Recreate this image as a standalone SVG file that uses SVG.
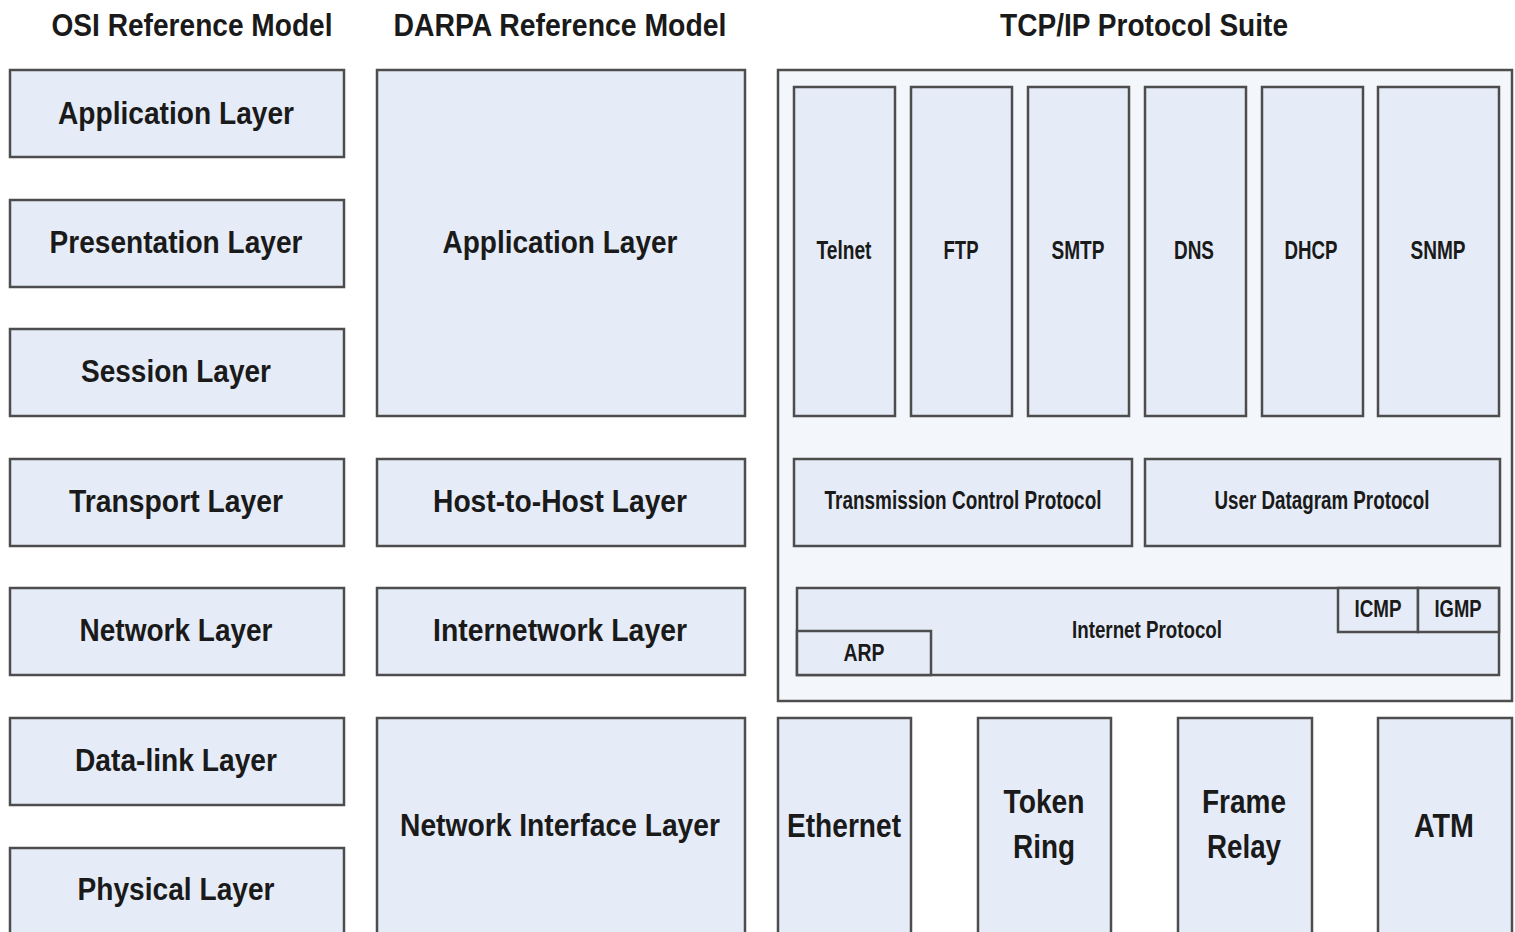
<svg xmlns="http://www.w3.org/2000/svg" width="1515" height="932" viewBox="0 0 1515 932">
<style>
.b{fill:#e6ecf7;stroke:#4d4d4d;stroke-width:2.5}
.o{fill:#f3f6fb;stroke:#4d4d4d;stroke-width:2.5}
text{font-family:"Liberation Sans",Arial,sans-serif;font-weight:bold;fill:#1a1a1a;text-anchor:middle}
.t{font-size:32px}
.l{font-size:32px}
.s{font-size:25px}
.x{font-size:23px}
.m{font-size:34px}
</style>
<rect width="1515" height="932" fill="#ffffff"/>
<g id="titles">
<text class="t" x="192" y="36" textLength="281" lengthAdjust="spacingAndGlyphs">OSI Reference Model</text>
<text class="t" x="560" y="36" textLength="333" lengthAdjust="spacingAndGlyphs">DARPA Reference Model</text>
<text class="t" x="1144" y="36" textLength="288" lengthAdjust="spacingAndGlyphs">TCP/IP Protocol Suite</text>
</g>
<g id="osi-application"><rect class="b" x="10" y="70" width="334" height="87"/><text class="l" x="176" y="124" textLength="236" lengthAdjust="spacingAndGlyphs">Application Layer</text></g>
<g id="osi-presentation"><rect class="b" x="10" y="200" width="334" height="87"/><text class="l" x="176" y="253" textLength="253" lengthAdjust="spacingAndGlyphs">Presentation Layer</text></g>
<g id="osi-session"><rect class="b" x="10" y="329" width="334" height="87"/><text class="l" x="176" y="382" textLength="190" lengthAdjust="spacingAndGlyphs">Session Layer</text></g>
<g id="osi-transport"><rect class="b" x="10" y="459" width="334" height="87"/><text class="l" x="176" y="512" textLength="214" lengthAdjust="spacingAndGlyphs">Transport Layer</text></g>
<g id="osi-network"><rect class="b" x="10" y="588" width="334" height="87"/><text class="l" x="176" y="641" textLength="193" lengthAdjust="spacingAndGlyphs">Network Layer</text></g>
<g id="osi-datalink"><rect class="b" x="10" y="718" width="334" height="87"/><text class="l" x="176" y="771" textLength="202" lengthAdjust="spacingAndGlyphs">Data-link Layer</text></g>
<g id="osi-physical"><rect class="b" x="10" y="848" width="334" height="100"/><text class="l" x="176" y="900" textLength="197" lengthAdjust="spacingAndGlyphs">Physical Layer</text></g>

<g id="darpa-application"><rect class="b" x="377" y="70" width="368" height="346"/><text class="l" x="560" y="253" textLength="235" lengthAdjust="spacingAndGlyphs">Application Layer</text></g>
<g id="darpa-host"><rect class="b" x="377" y="459" width="368" height="87"/><text class="l" x="560" y="512" textLength="254" lengthAdjust="spacingAndGlyphs">Host-to-Host Layer</text></g>
<g id="darpa-internetwork"><rect class="b" x="377" y="588" width="368" height="87"/><text class="l" x="560" y="641" textLength="254" lengthAdjust="spacingAndGlyphs">Internetwork Layer</text></g>
<g id="darpa-netif"><rect class="b" x="377" y="718" width="368" height="230"/><text class="l" x="560" y="836" textLength="320" lengthAdjust="spacingAndGlyphs">Network Interface Layer</text></g>

<g id="tcpip-suite"><rect class="o" x="778" y="70" width="734" height="631"/></g>
<g id="telnet"><rect class="b" x="794" y="87" width="101" height="329"/><text class="s" x="844" y="259" textLength="55" lengthAdjust="spacingAndGlyphs">Telnet</text></g>
<g id="ftp"><rect class="b" x="911" y="87" width="101" height="329"/><text class="s" x="961" y="259" textLength="35" lengthAdjust="spacingAndGlyphs">FTP</text></g>
<g id="smtp"><rect class="b" x="1028" y="87" width="101" height="329"/><text class="s" x="1078" y="259" textLength="53" lengthAdjust="spacingAndGlyphs">SMTP</text></g>
<g id="dns"><rect class="b" x="1145" y="87" width="101" height="329"/><text class="s" x="1194" y="259" textLength="40" lengthAdjust="spacingAndGlyphs">DNS</text></g>
<g id="dhcp"><rect class="b" x="1262" y="87" width="101" height="329"/><text class="s" x="1311" y="259" textLength="53" lengthAdjust="spacingAndGlyphs">DHCP</text></g>
<g id="snmp"><rect class="b" x="1378" y="87" width="121" height="329"/><text class="s" x="1438" y="259" textLength="55" lengthAdjust="spacingAndGlyphs">SNMP</text></g>
<g id="tcp"><rect class="b" x="794" y="459" width="338" height="87"/><text class="s" x="963" y="509" textLength="277" lengthAdjust="spacingAndGlyphs">Transmission Control Protocol</text></g>
<g id="udp"><rect class="b" x="1145" y="459" width="355" height="87"/><text class="s" x="1322" y="509" textLength="215" lengthAdjust="spacingAndGlyphs">User Datagram Protocol</text></g>
<g id="ip"><rect class="b" x="797" y="588" width="702" height="87"/><text class="x" x="1147" y="638" textLength="150" lengthAdjust="spacingAndGlyphs">Internet Protocol</text></g>
<g id="arp"><rect class="b" x="797" y="631" width="134" height="44"/><text class="x" x="864" y="661" textLength="41" lengthAdjust="spacingAndGlyphs">ARP</text></g>
<g id="icmp"><rect class="b" x="1338" y="588" width="80" height="44"/><text class="x" x="1378" y="617" textLength="47" lengthAdjust="spacingAndGlyphs">ICMP</text></g>
<g id="igmp"><rect class="b" x="1418" y="588" width="81" height="44"/><text class="x" x="1458" y="617" textLength="47" lengthAdjust="spacingAndGlyphs">IGMP</text></g>

<g id="ethernet"><rect class="b" x="778" y="718" width="133" height="230"/><text class="m" x="844" y="837" textLength="114" lengthAdjust="spacingAndGlyphs">Ethernet</text></g>
<g id="token-ring"><rect class="b" x="978" y="718" width="133" height="230"/><text class="m" x="1044" y="813" textLength="81" lengthAdjust="spacingAndGlyphs">Token</text><text class="m" x="1044" y="858" textLength="62" lengthAdjust="spacingAndGlyphs">Ring</text></g>
<g id="frame-relay"><rect class="b" x="1178" y="718" width="134" height="230"/><text class="m" x="1244" y="813" textLength="84" lengthAdjust="spacingAndGlyphs">Frame</text><text class="m" x="1244" y="858" textLength="74" lengthAdjust="spacingAndGlyphs">Relay</text></g>
<g id="atm"><rect class="b" x="1378" y="718" width="134" height="230"/><text class="m" x="1444" y="837" textLength="60" lengthAdjust="spacingAndGlyphs">ATM</text></g>
<g id="connectors"></g>
</svg>
